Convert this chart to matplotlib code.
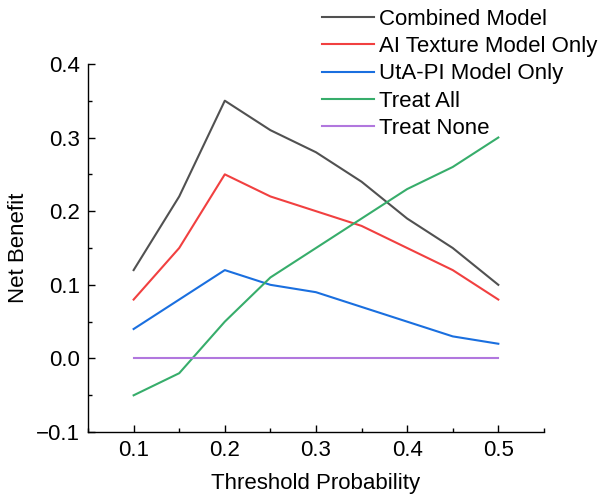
import numpy as np
import matplotlib.pyplot as plt
from matplotlib.ticker import MultipleLocator

plt.rcParams['font.family'] = ['Liberation Sans', 'DejaVu Sans']

thresholds = [0.1, 0.15, 0.2, 0.25, 0.3, 0.35, 0.4, 0.45, 0.5]
combined = [0.12, 0.22, 0.35, 0.31, 0.28, 0.24, 0.19, 0.15, 0.10]
ai_texture = [0.08, 0.15, 0.25, 0.22, 0.20, 0.18, 0.15, 0.12, 0.08]
uta_pi = [0.04, 0.08, 0.12, 0.10, 0.09, 0.07, 0.05, 0.03, 0.02]
treat_all = [-0.05, -0.02, 0.05, 0.11, 0.15, 0.19, 0.23, 0.26, 0.30]
treat_none = [0, 0, 0, 0, 0, 0, 0, 0, 0]

labels = ['Combined Model', 'AI Texture Model Only', 'UtA-PI Model Only', 'Treat All', 'Treat None']
colors = ['#515151', '#F14040', '#1A6FDF', '#37AD6B', '#B177DE']
series = [combined, ai_texture, uta_pi, treat_all, treat_none]

fig = plt.figure(figsize=(6.03, 4.99), dpi=100)
ax = fig.add_axes([0.146, 0.134, 0.756, 0.738])

for s, c, lab in zip(series, colors, labels):
    ax.plot(thresholds, s, color=c, lw=1.5, label=lab)

ax.set_xlim(0.05, 0.55)
ax.set_ylim(-0.1, 0.4)
ax.xaxis.set_major_locator(MultipleLocator(0.1))
ax.xaxis.set_minor_locator(MultipleLocator(0.05))
ax.yaxis.set_major_locator(MultipleLocator(0.1))
ax.yaxis.set_minor_locator(MultipleLocator(0.05))
ax.xaxis.set_major_formatter(lambda v, p: f'{v:.1f}')
ax.yaxis.set_major_formatter(lambda v, p: f'{v:.1f}'.replace('-', '\u2212'))
ax.tick_params(which='major', direction='in', length=5, width=1, labelsize=16, pad=6)
ax.tick_params(which='minor', direction='in', length=3, width=1)
for side in ['top', 'right']:
    ax.spines[side].set_visible(False)
for side in ['left', 'bottom']:
    ax.spines[side].set_linewidth(1)

ax.set_xlabel('Threshold Probability', fontsize=16, labelpad=8)
ax.set_ylabel('Net Benefit', fontsize=16, labelpad=5)

fig.legend(loc='upper left', bbox_to_anchor=(0.52, 1.0), frameon=False, fontsize=16,
           handlelength=2.3, handletextpad=0.25, labelspacing=0.28, borderaxespad=0)

fig.savefig('out.png', dpi=100)
